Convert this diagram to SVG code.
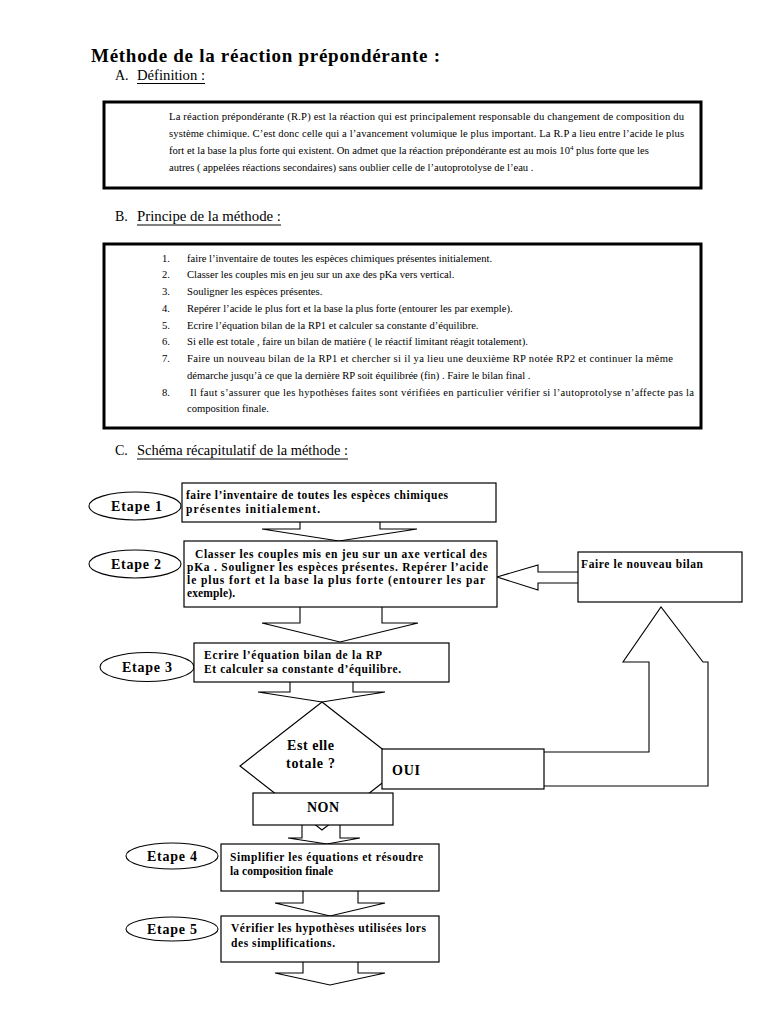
<svg xmlns="http://www.w3.org/2000/svg" width="768" height="1024" viewBox="0 0 768 1024">
<style>
.bg{fill:#ffffff}
.frame{fill:#ffffff;stroke:#000;stroke-width:3}
.box{fill:#ffffff;stroke:#000;stroke-width:1.2}
.arr{fill:#ffffff;stroke:#000;stroke-width:1.1;stroke-linejoin:miter}
.ell{fill:#ffffff;stroke:#000;stroke-width:1.1}
.t{font-family:"Liberation Serif","Times New Roman",serif;fill:#000}
.title{font-size:19px;font-weight:bold}
.head{font-size:14px}
.body{font-size:10.6px}
.fb{font-size:11.5px;font-weight:bold}
.lab{font-size:14px;font-weight:bold}
.ul{stroke:#000;stroke-width:1}
</style>
<rect class="bg" x="0" y="0" width="768" height="1024"/>

<g id="header">
<text class="t title" x="91" y="62" textLength="349" lengthAdjust="spacing">Méthode de la réaction prépondérante :</text>
<text class="t head" x="115" y="80">A.</text>
<text class="t head" x="137" y="80" textLength="68" lengthAdjust="spacingAndGlyphs">Définition :</text>
<line class="ul" x1="137" y1="83.5" x2="205" y2="83.5"/>
</g>

<g id="definition">
<rect class="frame" x="104" y="102" width="597" height="86"/>
<text class="t body" x="169" y="120" textLength="515" lengthAdjust="spacing">La réaction prépondérante (R.P) est la réaction qui est principalement responsable du changement de composition du</text>
<text class="t body" x="169" y="137" textLength="515" lengthAdjust="spacing">système chimique. C’est donc celle qui a l’avancement  volumique le plus important. La R.P a lieu entre l’acide le plus</text>
<text class="t body" x="169" y="154">fort et la base la plus forte qui existent. On admet que la réaction prépondérante est au mois 10<tspan font-size="7" dy="-4">4</tspan><tspan dy="4"> plus forte que les</tspan></text>
<text class="t body" x="169" y="171">autres  ( appelées réactions secondaires) sans oublier celle de l’autoprotolyse de l’eau .</text>
</g>

<g id="principe-title">
<text class="t head" x="115" y="221">B.</text>
<text class="t head" x="137" y="221" textLength="144" lengthAdjust="spacingAndGlyphs">Principe de la méthode :</text>
<line class="ul" x1="137" y1="225" x2="281" y2="225"/>
</g>

<g id="principe">
<rect class="frame" x="104" y="244" width="597" height="184"/>
<g class="t body">
<text x="162" y="262">1.</text><text x="187" y="262">faire l’inventaire de toutes les espèces chimiques présentes initialement.</text>
<text x="162" y="278">2.</text><text x="187" y="278">Classer les couples mis en jeu sur un axe des pKa vers vertical.</text>
<text x="162" y="295">3.</text><text x="187" y="295">Souligner les espèces présentes.</text>
<text x="162" y="312">4.</text><text x="187" y="312">Repérer l’acide le plus fort et la base la plus forte (entourer les par exemple).</text>
<text x="162" y="329">5.</text><text x="187" y="329">Ecrire l’équation bilan de la RP1 et calculer sa constante d’équilibre.</text>
<text x="162" y="345">6.</text><text x="187" y="345">Si elle est totale , faire un bilan de matière ( le réactif limitant réagit totalement).</text>
<text x="162" y="362">7.</text><text x="187" y="362" textLength="486" lengthAdjust="spacing">Faire un nouveau bilan de la RP1 et chercher si il ya lieu une deuxième RP notée RP2 et continuer la même</text>
<text x="187" y="379">démarche jusqu’à ce que la dernière RP soit équilibrée (fin) . Faire le bilan final .</text>
<text x="162" y="396">8.</text><text x="190" y="396" textLength="504" lengthAdjust="spacing">Il faut s’assurer que les hypothèses faites sont vérifiées en particulier vérifier si l’autoprotolyse n’affecte pas la</text>
<text x="187" y="412">composition finale.</text>
</g>
</g>

<g id="schema-title">
<text class="t head" x="115" y="455">C.</text>
<text class="t head" x="137" y="455" textLength="211" lengthAdjust="spacingAndGlyphs">Schéma récapitulatif de la méthode :</text>
<line class="ul" x1="137" y1="459" x2="348" y2="459"/>
</g>

<g id="connectors">
<polygon class="arr" points="300,515 300,529 262,529 339,541 417,529 380,529 380,515"/>
<polygon class="arr" points="300,600 300,623 262,623 340,642 418,623 382,623 382,600"/>
<polygon class="arr" points="290,676 290,692 258,692 322,702 385,692 353,692 353,676"/>
<polygon class="arr" points="302,820 302,838 288,838 327,844 360,838 340,838 340,820"/>
<polygon class="arr" points="303,885 303,903 275,903 330,916 385,903 358,903 358,885"/>
<polygon class="arr" points="303,955 303,973 275,973 330,985 385,973 358,973 358,955"/>
<polygon class="arr" points="590,572 538,572 538,565 497,577 538,590 538,583 590,583"/>
<polygon class="arr" points="530,752 649,752 649,662 623,662 661,607 703,662 708,662 708,786 530,786"/>
</g>

<g id="etape1">
<ellipse class="ell" cx="135" cy="506" rx="46" ry="14"/>
<text class="t lab" x="111" y="511" textLength="51" lengthAdjust="spacing">Etape 1</text>
</g>
<g id="box1">
<rect class="box" x="182" y="483" width="314" height="39"/>
<text class="t fb" x="186" y="499" textLength="262" lengthAdjust="spacing">faire l’inventaire de toutes les espèces chimiques</text>
<text class="t fb" x="186" y="513" textLength="134" lengthAdjust="spacing">présentes initialement.</text>
</g>

<g id="etape2">
<ellipse class="ell" cx="135" cy="564" rx="46" ry="14"/>
<text class="t lab" x="111" y="569" textLength="50" lengthAdjust="spacing">Etape 2</text>
</g>
<g id="box2">
<rect class="box" x="184" y="541" width="313" height="66"/>
<text class="t fb" x="195" y="558" textLength="292" lengthAdjust="spacing">Classer les couples mis en jeu sur un axe vertical des</text>
<text class="t fb" x="187" y="571" textLength="301" lengthAdjust="spacing">pKa . Souligner les espèces présentes. Repérer l’acide</text>
<text class="t fb" x="187" y="584" textLength="298" lengthAdjust="spacing">le plus fort et la base la plus forte (entourer les par</text>
<text class="t fb" x="187" y="597" textLength="48" lengthAdjust="spacing">exemple).</text>
</g>

<g id="nouveau-bilan">
<rect class="box" x="578" y="552" width="164" height="50"/>
<text class="t fb" x="581" y="568" textLength="122" lengthAdjust="spacing">Faire le nouveau bilan</text>
</g>

<g id="etape3">
<ellipse class="ell" cx="147" cy="667" rx="47" ry="14.5"/>
<text class="t lab" x="122" y="672" textLength="50" lengthAdjust="spacing">Etape 3</text>
</g>
<g id="box3">
<rect class="box" x="194" y="643" width="255" height="39"/>
<text class="t fb" x="204" y="659" textLength="178" lengthAdjust="spacing">Ecrire l’équation bilan de la  RP</text>
<text class="t fb" x="204" y="673" textLength="197" lengthAdjust="spacing">Et calculer sa constante d’équilibre.</text>
</g>

<g id="decision">
<polygon class="box" points="322,702 404,766 322,830 240,766"/>
<text class="t lab" x="287" y="750" textLength="47" lengthAdjust="spacing">Est elle</text>
<text class="t lab" x="286" y="768" textLength="49" lengthAdjust="spacing">totale ?</text>
</g>

<g id="oui">
<rect class="box" x="382" y="749" width="162" height="40"/>
<text class="t lab" x="392" y="775" font-size="15" textLength="28" lengthAdjust="spacing">OUI</text>
</g>

<g id="non">
<rect class="box" x="253" y="793" width="140" height="32"/>
<text class="t lab" x="307" y="812" textLength="32" lengthAdjust="spacing">NON</text>
</g>

<g id="etape4">
<ellipse class="ell" cx="172" cy="856" rx="46" ry="13"/>
<text class="t lab" x="147" y="861" textLength="50" lengthAdjust="spacing">Etape 4</text>
</g>
<g id="box4">
<rect class="box" x="221" y="844" width="218" height="47"/>
<text class="t fb" x="230" y="861" textLength="193" lengthAdjust="spacing">Simplifier les équations et résoudre</text>
<text class="t fb" x="230" y="875" textLength="103" lengthAdjust="spacing">la composition finale</text>
</g>

<g id="etape5">
<ellipse class="ell" cx="172" cy="929" rx="46" ry="12"/>
<text class="t lab" x="147" y="934" textLength="50" lengthAdjust="spacing">Etape 5</text>
</g>
<g id="box5">
<rect class="box" x="221" y="916" width="218" height="46"/>
<text class="t fb" x="231" y="932" textLength="195" lengthAdjust="spacing">Vérifier les hypothèses utilisées lors</text>
<text class="t fb" x="231" y="947" textLength="104" lengthAdjust="spacing">des simplifications.</text>
</g>
</svg>
